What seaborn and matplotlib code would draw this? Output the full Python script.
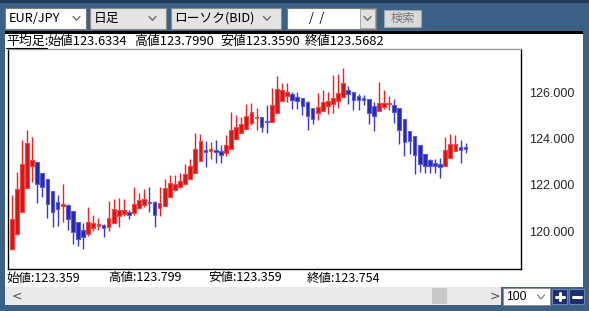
import numpy as np
import pandas as pd
import seaborn as sns
import matplotlib
matplotlib.use("Agg")
import matplotlib.pyplot as plt
from matplotlib.patches import Rectangle
from matplotlib.lines import Line2D

# ---------------- data (Heikin-Ashi candles, EUR/JPY daily) ----------------
opens = [119.22, 119.88, 120.85, 121.88, 122.83, 122.98, 122.52, 122.24, 121.73, 121.28,
         121.09, 121.15, 120.86, 120.42, 120.06, 119.90, 120.16, 120.24, 120.27, 120.20,
         120.37, 120.66, 120.76, 120.85, 120.79, 120.99, 121.15, 121.27, 121.27, 120.99,
         121.11, 121.48, 121.78, 121.91, 122.06, 122.26, 122.52, 123.02, 123.47, 123.45,
         123.51, 123.45, 123.38, 123.57, 123.99, 124.23, 124.40, 124.68, 124.90, 124.92,
         124.72, 124.72, 125.09, 125.61, 125.86, 125.93, 125.81, 125.74, 125.58, 125.31,
         125.09, 125.21, 125.42, 125.51, 125.64, 125.80, 126.10, 126.00, 125.83, 125.74,
         125.70, 125.41, 125.19, 125.38, 125.48, 125.47, 125.31, 124.83, 124.33, 124.12,
         123.71, 123.32, 123.06, 122.96, 122.89, 122.83, 123.17, 123.48, 123.63, 123.63]
highs = [121.57, 122.56, 123.93, 124.37, 124.07, 122.98, 122.52, 122.24, 121.73, 121.58,
         122.06, 121.18, 120.86, 120.42, 120.37, 121.05, 120.71, 120.56, 120.33, 121.31,
         121.38, 121.44, 121.38, 120.91, 121.91, 121.65, 121.83, 121.91, 121.30, 121.91,
         122.26, 122.43, 122.43, 122.52, 122.91, 123.12, 124.24, 124.20, 123.91, 123.86,
         123.93, 123.73, 124.14, 125.15, 125.01, 124.94, 125.48, 125.54, 125.34, 124.95,
         125.45, 126.17, 126.71, 126.42, 126.42, 126.01, 126.01, 125.77, 125.61, 125.34,
         125.99, 126.10, 126.03, 126.73, 126.81, 127.04, 126.26, 126.03, 125.94, 125.88,
         125.70, 125.58, 126.43, 126.09, 125.86, 125.71, 125.31, 124.83, 124.33, 124.12,
         123.71, 123.32, 123.12, 123.12, 123.15, 124.06, 124.20, 124.14, 123.94, 123.80]
lows = [119.20, 119.85, 120.85, 121.88, 122.14, 121.24, 121.50, 120.56, 120.19, 120.24,
        120.40, 120.07, 119.47, 119.38, 119.22, 119.81, 119.99, 120.07, 119.74, 120.03,
        120.35, 120.19, 120.66, 120.53, 120.71, 120.95, 121.06, 120.83, 120.20, 120.68,
        121.11, 121.48, 121.74, 121.86, 122.06, 122.26, 122.52, 123.02, 122.76, 123.14,
        122.94, 122.94, 123.27, 123.57, 123.99, 124.23, 124.40, 124.59, 124.39, 124.27,
        124.23, 124.72, 125.09, 125.61, 125.60, 125.29, 125.29, 125.02, 124.37, 124.62,
        124.81, 125.21, 125.06, 125.12, 125.34, 125.80, 125.50, 125.22, 125.24, 125.47,
        124.63, 124.35, 125.19, 125.27, 125.22, 124.68, 123.77, 123.24, 123.35, 122.46,
        122.58, 122.50, 122.50, 122.52, 122.32, 122.83, 123.17, 123.48, 122.95, 123.36]
closes = [120.52, 121.84, 122.89, 123.81, 123.09, 122.06, 121.93, 121.19, 120.82, 120.94,
          121.18, 120.55, 119.97, 119.67, 119.77, 120.39, 120.36, 120.32, 120.13, 120.56,
          120.96, 120.91, 120.91, 120.72, 121.17, 121.34, 121.38, 121.22, 120.72, 121.21,
          121.86, 122.07, 122.03, 122.17, 122.46, 122.81, 123.54, 123.90, 123.44, 123.54,
          123.41, 123.31, 123.74, 124.39, 124.50, 124.62, 124.98, 125.17, 124.93, 124.52,
          124.70, 125.47, 126.13, 126.12, 126.00, 125.68, 125.64, 125.42, 124.99, 124.85,
          125.37, 125.60, 125.61, 125.76, 125.96, 126.40, 125.93, 125.68, 125.67, 125.65,
          125.12, 124.99, 125.54, 125.55, 125.51, 125.14, 124.36, 123.84, 123.88, 123.29,
          122.92, 122.81, 122.83, 122.82, 122.78, 123.50, 123.78, 123.76, 123.52, 123.57]
y_ticks = [120.0, 122.0, 124.0, 126.0]

pair_label = "EUR/JPY"
period_label = "日足"
type_label = "ローソク(BID)"
head_labels = ["平均足:", "始値123.6334", "高値123.7990", "安値123.3590", "終値123.5682"]
foot_labels = ["始値:123.359", "高値:123.799", "安値:123.359", "終値:123.754"]
zoom_label = "100"

df = pd.DataFrame({"open": opens, "high": highs, "low": lows, "close": closes})
df["idx"] = np.arange(len(df))
df["up"] = df["close"] >= df["open"]

# ---------------- figure ----------------
sns.set_theme(style="white")
plt.rcParams["font.family"] = ["Noto Sans CJK JP", "DejaVu Sans"]

W, H = 589, 311
fig = plt.figure(figsize=(W / 100, H / 100), dpi=100)
fig.patch.set_facecolor("#3b6186")

JP = ["Noto Sans CJK JP", "DejaVu Sans"]


def rect(x0, y0, x1, y1, fc, ec="none", lw=0.0, z=1):
    fig.patches.append(Rectangle((x0 / W, 1 - y1 / H), (x1 - x0) / W, (y1 - y0) / H,
                                 transform=fig.transFigure, facecolor=fc, edgecolor=ec,
                                 linewidth=lw, zorder=z))


def line(xs, ys, color, lw=1.0, z=3):
    fig.lines.append(Line2D([x / W for x in xs], [1 - y / H for y in ys],
                            transform=fig.transFigure, color=color, linewidth=lw, zorder=z))


def text(x, y, s, size=9.0, color="black", ha="left", family=None):
    fig.text(x / W, 1 - y / H, s, fontsize=size, color=color, ha=ha, va="center",
             family=family or JP, zorder=5)


def chevron(cx, cy, color="#606060"):
    line([cx - 3.5, cx, cx + 3.5], [cy - 2, cy + 1.8, cy - 2], color, lw=0.9, z=4)


# top strip
rect(0, 0, W, 3, "#1f3b5c")
# toolbar controls
rect(5, 8, 86, 29, "white", "#7b7b7b", 0.8)
text(9, 18.5, pair_label, size=9.2)
chevron(76.5, 18.5)
rect(90, 8, 166, 29, "#e4e4e4", "#8a8a8a", 0.8)
text(94, 18.5, period_label, size=9.2)
chevron(152.5, 18.5)
rect(171, 8, 281, 29, "#e4e4e4", "#8a8a8a", 0.8)
text(174, 18.5, type_label, size=9.2)
chevron(267, 18.5)
rect(287, 8, 376, 29, "white", "#7b7b7b", 0.8)
text(317, 18.5, "/  /", size=9, ha="center")
rect(360, 9, 375, 28, "#e2e2e2", "#9a9a9a", 0.6)
chevron(367.5, 18.5)
rect(384, 10, 421, 27, "#dadada", "#a5a5a5", 0.8)
text(402.5, 18.5, "検索", size=8.8, color="#777777", ha="center")

# white panel
rect(5, 31, 583, 287, "white")
rect(5, 31, 583, 34, "black", z=2)

# heading
head_x = [6, 47, 134, 220, 305]
for hx, s in zip(head_x, head_labels):
    text(hx, 41.5, s, size=9.3)
line([6, 47], [48, 48], "black", lw=0.8)

# footer texts
foot_x = [6, 108, 208, 307]
for fx, s in zip(foot_x, foot_labels):
    text(fx, 278, s, size=9.0)

# scrollbar
rect(5, 287, 501, 305, "#e9e9e9")
text(12, 296, "<", size=9, color="#505050", family=["DejaVu Sans"])
text(490, 296, ">", size=9, color="#505050", family=["DejaVu Sans"])
rect(432, 288, 447, 304, "#c8c8c8")
rect(503, 288, 550, 305, "white", "#8a8a8a", 0.6)
text(506, 296.5, zoom_label, size=8.8, family=["Liberation Sans"])
chevron(541, 297, "#808080")
rect(552, 289, 567, 304, "#1c2e6c", "#6d7fb5", 0.8)
rect(569, 289, 584, 304, "#1c2e6c", "#6d7fb5", 0.8)
line([556, 563.5], [296.5, 296.5], "white", lw=2.2, z=4)
line([559.8, 559.8], [292.8, 300.2], "white", lw=2.2, z=4)
line([572.5, 580.5], [296.5, 296.5], "white", lw=2.2, z=4)

# ---------------- chart axes ----------------
ax_l, ax_r, ax_t, ax_b = 8, 521, 49, 269
ax = fig.add_axes([ax_l / W, 1 - ax_b / H, (ax_r - ax_l) / W, (ax_b - ax_t) / H])
ax.set_facecolor("white")
ax.set_zorder(3)

red_w, red_face, red_edge = "#ee2020", "#d01818", "#f24848"
blu_w, blu_face, blu_edge = "#3838d8", "#2828ac", "#5c5cd8"

for up, sub in df.groupby("up"):
    wc = red_w if up else blu_w
    ax.vlines(sub["idx"], sub["low"], sub["high"], color=wc, linewidth=1.0, zorder=2)
    bottom = np.minimum(sub["open"], sub["close"])
    height = np.maximum(np.abs(sub["close"] - sub["open"]), 0.05)
    ax.bar(sub["idx"], height, bottom=bottom, width=0.72,
           color=red_face if up else blu_face,
           edgecolor=red_edge if up else blu_edge, linewidth=0.8, zorder=3)

ax.set_xlim(-0.73, 99.86)
ax.set_ylim(118.37, 127.87)
ax.set_xticks([])
ax.yaxis.tick_right()
ax.set_yticks(y_ticks)
ax.set_yticklabels([f"{v:.3f}" for v in y_ticks], family=["Liberation Sans"], fontsize=9)
ax.tick_params(axis="y", length=0, pad=6)
for side in ["left", "bottom", "right"]:
    ax.spines[side].set_color("black")
    ax.spines[side].set_linewidth(1.0)
ax.spines["top"].set_color("#9a9a9a")
ax.spines["top"].set_linewidth(1.0)
ax.grid(False)

fig.savefig("out.png", dpi=100, facecolor=fig.get_facecolor())
